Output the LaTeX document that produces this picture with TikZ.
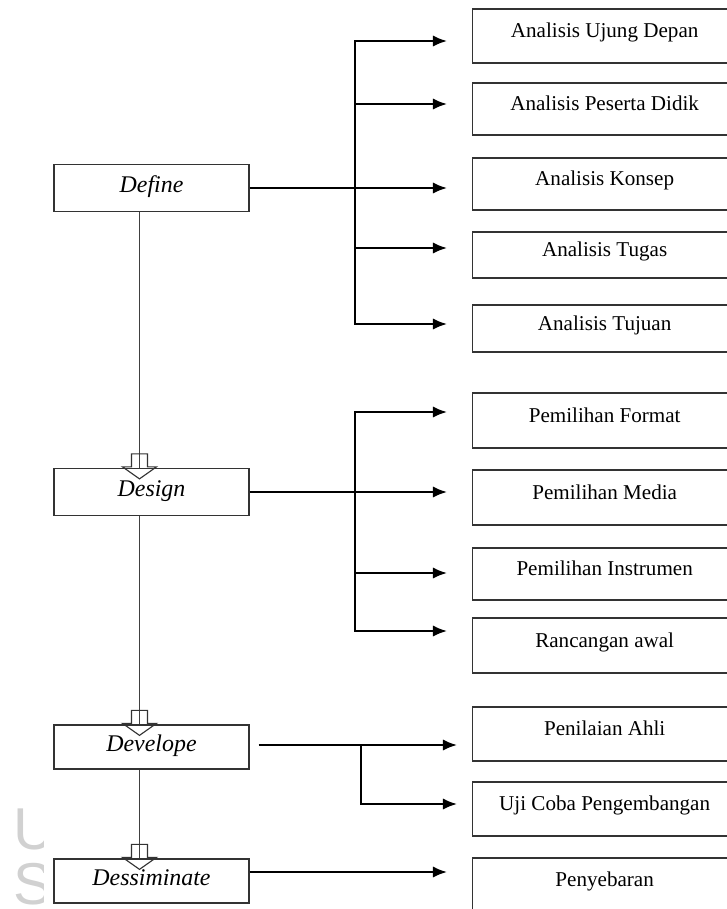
\documentclass[tikz,border=0pt]{standalone}
\usepackage{fontspec}
\setmainfont{Liberation Serif}
\setsansfont{Liberation Sans}
\usetikzlibrary{arrows.meta,positioning}

\tikzset{
  stage/.style={draw=black!80,line width=0.9pt,minimum width=4.875cm,inner sep=0pt,text height=0.66em,text depth=0.08em,font=\fontsize{17}{20}\selectfont\itshape},
  task/.style={draw=black!80,line width=0.9pt,anchor=west,minimum width=6.6cm,inner sep=0pt,text height=0.66em,text depth=0.42em,font=\fontsize{15}{18}\selectfont},
  link/.style={line width=1.4pt,-{Latex[length=3.5mm,width=2.8mm]},shorten >=0.625cm},
  spine/.style={line width=1.2pt,black!75},
  wmark/.style={inner sep=0pt,black!18,font=\sffamily\fontsize{42}{46}\selectfont},
}
% hollow block arrow, tip just inside the box top
\newcommand{\hollowtip}[1]{\draw[black!80,line width=0.8pt] ([shift={(-8,-14)}]#1) -- ([shift={(-8,-1)}]#1) -- ([shift={(-17,-1)}]#1) -- ([shift={(0,11)}]#1) -- ([shift={(17,-1)}]#1) -- ([shift={(8,-1)}]#1) -- ([shift={(8,-14)}]#1) -- cycle;}

\begin{document}
\begin{tikzpicture}[x=0.025cm,y=-0.025cm]
\useasboundingbox (0,0) rectangle (726,909);

% watermark
\begin{scope}
\clip (0,790) rectangle (43,909);
\node[wmark] (wu) at (35,829) {U};
\node[wmark] (ws) at (33,884) {S};
\end{scope}

% stages
\node[stage,minimum height=1.175cm] (define) at (151.5,188) {Define};
\node[stage,minimum height=1.175cm] (design) at (151.5,492) {Design};
\node[stage,minimum height=1.1cm] (develope) at (151.5,747) {Develope};
\node[stage,minimum height=1.1cm] (dessiminate) at (151.5,881) {Dessiminate};

% define tasks
\node[task,minimum height=1.35cm] (ujung) at (472,36) {Analisis Ujung Depan};
\node[task,minimum height=1.3cm] (peserta) at (472,109) {Analisis Peserta Didik};
\node[task,minimum height=1.3cm] (konsep) at (472,184) {Analisis Konsep};
\node[task,minimum height=1.15cm] (tugas) at (472,255) {Analisis Tugas};
\node[task,minimum height=1.175cm] (tujuan) at (472,328.5) {Analisis Tujuan};

% design tasks
\node[task,minimum height=1.375cm] (format) at (472,420.5) {Pemilihan Format};
\node[task,minimum height=1.375cm] (media) at (472,497.5) {Pemilihan Media};
\node[task,minimum height=1.3cm] (instrumen) at (472,574) {Pemilihan Instrumen};
\node[task,minimum height=1.375cm] (rancangan) at (472,645.5) {Rancangan awal};

% develope and dessiminate tasks
\node[task,minimum height=1.35cm] (ahli) at (472,734) {Penilaian Ahli};
\node[task,minimum height=1.35cm] (ujicoba) at (472,809) {Uji Coba Pengembangan};
\node[task,minimum height=1.35cm] (sebaran) at (472,885) {Penyebaran};

% spine
\coordinate (out1) at ([xshift=-0.3cm]define.south);
\coordinate (in2) at ([xshift=-0.3cm]design.north);
\coordinate (out2) at ([xshift=-0.3cm]design.south);
\coordinate (in3) at ([xshift=-0.3cm]develope.north);
\coordinate (out3) at ([xshift=-0.3cm]develope.south);
\coordinate (in4) at ([xshift=-0.3cm]dessiminate.north);
\draw[spine] (out1) -- (in2);
\draw[spine] (out2) -- (in3);
\draw[spine] (out3) -- (in4);
\hollowtip{in2}
\hollowtip{in3}
\hollowtip{in4}

% define branches
\coordinate (d1) at (355,41);
\coordinate (d2) at (355,104);
\coordinate (d3) at (355,188);
\coordinate (d4) at (355,248);
\coordinate (d5) at (355,324);
\draw[link] (define.east) -- (define.east -| konsep.west);
\draw[link] (d3) -- (d1) -- (d1 -| ujung.west);
\draw[link] (d2) -- (d2 -| peserta.west);
\draw[link] (d4) -- (d4 -| tugas.west);
\draw[link] (d3) -- (d5) -- (d5 -| tujuan.west);

% design branches
\coordinate (e1) at (355,412);
\coordinate (e2) at (355,492);
\coordinate (e3) at (355,573);
\coordinate (e4) at (355,631);
\draw[link] (design.east) -- (design.east -| media.west);
\draw[link] (e2) -- (e1) -- (e1 -| format.west);
\draw[link] (e3) -- (e3 -| instrumen.west);
\draw[link] (e2) -- (e4) -- (e4 -| rancangan.west);

% develope branches
\coordinate (f1) at (361,745);
\coordinate (f2) at (361,804);
\draw[link,shorten <=0.225cm,shorten >=0.375cm] ([yshift=0.05cm]develope.east) -- ([yshift=0.05cm]develope.east -| ahli.west);
\draw[link,shorten >=0.375cm] (f1) -- (f2) -- (f2 -| ujicoba.west);

% dessiminate
\draw[link] ([yshift=0.225cm]dessiminate.east) -- ([yshift=0.225cm]dessiminate.east -| sebaran.west);
\end{tikzpicture}
\end{document}
